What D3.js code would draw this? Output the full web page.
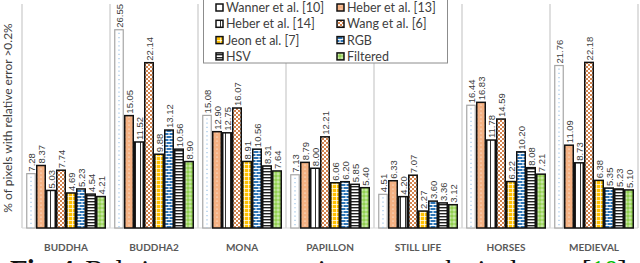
<!DOCTYPE html>
<html>
<head>
<meta charset="utf-8">
<script src="https://cdn.jsdelivr.net/npm/d3@7"></script>
<style>
  body { margin: 0; background: #fff; }
  svg { display: block; }
</style>
</head>
<body>
<div id="chart"></div>
<script>
// scenes along the x axis
const categories = ["BUDDHA", "BUDDHA2", "MONA", "PAPILLON", "STILL LIFE", "HORSES", "MEDIEVAL"];

// methods, in bar order
const seriesNames = ["Wanner et al. [10]", "Heber et al. [13]", "Heber et al. [14]", "Wang et al. [6]",
                     "Jeon et al. [7]", "RGB", "HSV", "Filtered"];

// values per method, one per scene
const wanner   = [7.28, 26.55, 15.08, 7.13, 4.51, 16.44, 21.76];
const heber13  = [8.37, 15.05, 12.90, 8.79, 6.33, 16.83, 11.09];
const heber14  = [5.03, 11.52, 12.75, 8.00, 4.20, 11.78, 8.73];
const wang     = [7.74, 22.14, 16.07, 12.21, 7.07, 14.59, 22.18];
const jeon     = [4.69, 9.88, 8.91, 6.06, 2.27, 6.22, 6.38];
const rgb      = [5.23, 13.12, 10.56, 6.20, 3.60, 10.20, 5.35];
const hsv      = [4.54, 10.56, 8.31, 5.85, 3.36, 8.08, 5.23];
const filtered = [4.21, 8.90, 7.64, 5.40, 3.12, 7.21, 5.10];

const seriesValues = [wanner, heber13, heber14, wang, jeon, rgb, hsv, filtered];
const yMax = 30;

const width = 640, height = 263;
const margin = { top: 4, right: 2, bottom: 35, left: 22 };

const svg = d3.select("#chart").append("svg")
    .attr("width", width)
    .attr("height", height);

// fill patterns, one per method
const defs = svg.append("defs");
const pat = (id, w, h) => defs.append("pattern")
    .attr("id", id).attr("patternUnits", "userSpaceOnUse")
    .attr("width", w).attr("height", h);

let p = pat("p-wanner", 4, 4);
p.append("rect").attr("width", 4).attr("height", 4).attr("fill", "#fff");

p = pat("p-heber13", 4, 4);
p.append("rect").attr("width", 4).attr("height", 4).attr("fill", "#f4b183");
p.append("circle").attr("cx", 1).attr("cy", 1).attr("r", 0.6).attr("fill", "#fff");

p = pat("p-heber14", 5, 4);
p.append("rect").attr("width", 5).attr("height", 4).attr("fill", "#fff");
p.append("rect").attr("x", 0).attr("width", 1).attr("height", 4).attr("fill", "#333");

p = pat("p-wang", 4, 4);
p.append("rect").attr("width", 4).attr("height", 4).attr("fill", "#fff");
p.append("circle").attr("cx", 1).attr("cy", 1).attr("r", 1).attr("fill", "#c55a11");
p.append("circle").attr("cx", 3).attr("cy", 3).attr("r", 1).attr("fill", "#c55a11");

p = pat("p-jeon", 4, 4);
p.append("rect").attr("width", 4).attr("height", 4).attr("fill", "#ffc000");
p.append("path").attr("d", "M0,0.4H4M0.4,0V4").attr("stroke", "#fff").attr("stroke-width", 0.8);

p = pat("p-rgb", 6, 6);
p.append("rect").attr("width", 6).attr("height", 6).attr("fill", "#2e75b6");
p.append("path").attr("d", "M0,0.5H6M0,3.5H6M1,0V3M4,3V6")
    .attr("stroke", "#fff").attr("stroke-width", 1);

p = pat("p-hsv", 4, 3);
p.append("rect").attr("width", 4).attr("height", 3).attr("fill", "#fff");
p.append("rect").attr("width", 4).attr("height", 1.4).attr("fill", "#222");

p = pat("p-filtered", 4, 4);
p.append("rect").attr("width", 4).attr("height", 4).attr("fill", "#92d050");
p.append("circle").attr("cx", 2).attr("cy", 2).attr("r", 1.1).attr("fill", "none")
    .attr("stroke", "#fff").attr("stroke-width", 0.6);

const patIds = ["p-wanner", "p-heber13", "p-heber14", "p-wang", "p-jeon", "p-rgb", "p-hsv", "p-filtered"];
const strokes = ["#a6a6a6", "#111", "#111", "#111", "#111", "#111", "#111", "#111"];

// scales
const x0 = d3.scaleBand()
    .domain(categories)
    .range([margin.left, width - margin.right]);

const x1 = d3.scaleBand()
    .domain(seriesNames)
    .range([0, x0.bandwidth()])
    .paddingOuter(0.4);

const y = d3.scaleLinear()
    .domain([0, yMax])
    .range([height - margin.bottom, margin.top]);

// group separators
const bounds = categories.map(c => x0(c)).concat([x0.range()[1]]);
svg.append("g").selectAll("line")
    .data(bounds)
    .join("line")
    .attr("x1", d => d).attr("x2", d => d)
    .attr("y1", y(yMax)).attr("y2", y(0))
    .attr("stroke", "#bfbfbf").attr("stroke-width", 1);

svg.append("line")
    .attr("x1", x0.range()[0]).attr("x2", x0.range()[1])
    .attr("y1", y(0)).attr("y2", y(0))
    .attr("stroke", "#d9d9d9");

// flatten data
const rows = [];
categories.forEach((c, ci) => {
    seriesNames.forEach((s, si) => rows.push({ cat: c, series: s, si, value: seriesValues[si][ci] }));
});

// bars
svg.append("g").selectAll("rect")
    .data(rows)
    .join("rect")
    .attr("x", d => x0(d.cat) + x1(d.series) + 0.75)
    .attr("y", d => y(d.value))
    .attr("width", x1.bandwidth() - 1.5)
    .attr("height", d => y(0) - y(d.value))
    .attr("fill", d => `url(#${patIds[d.si]})`)
    .attr("stroke", d => strokes[d.si])
    .attr("stroke-width", d => d.si === 0 ? 1.2 : 1.5);

// dotted line inside Wanner bars
svg.append("g").selectAll("line")
    .data(rows.filter(d => d.si === 0))
    .join("line")
    .attr("x1", d => x0(d.cat) + x1(d.series) + x1.bandwidth() / 2)
    .attr("x2", d => x0(d.cat) + x1(d.series) + x1.bandwidth() / 2)
    .attr("y1", d => y(d.value) + 3)
    .attr("y2", y(0))
    .attr("stroke", "#9dc3e6")
    .attr("stroke-width", 1.2)
    .attr("stroke-dasharray", "1.2,3");

// value labels
svg.append("g").selectAll("text")
    .data(rows)
    .join("text")
    .attr("transform", d => `translate(${x0(d.cat) + x1(d.series) + x1.bandwidth() / 2 + 3.5},${y(d.value) - 2}) rotate(-90)`)
    .attr("font-family", "Liberation Sans, Arial, sans-serif")
    .attr("font-size", "9.5px")
    .attr("fill", "#404040")
    .text(d => d.value.toFixed(2));

// category labels
svg.append("g").selectAll("text")
    .data(categories)
    .join("text")
    .attr("x", d => x0(d) + x0.bandwidth() / 2)
    .attr("y", 251)
    .attr("text-anchor", "middle")
    .attr("font-family", "Lato, sans-serif")
    .attr("font-weight", "bold")
    .attr("font-size", "10px")
    .attr("fill", "#595959")
    .text(d => d);

// y axis title
svg.append("text")
    .attr("transform", `translate(12,${(y(0) + y(yMax)) / 2 + 2}) rotate(-90)`)
    .attr("text-anchor", "middle")
    .attr("font-family", "Lato, sans-serif")
    .attr("font-size", "12px")
    .attr("fill", "#404040")
    .text("% of pixels with relative error >0.2%");

// legend
const legend = svg.append("g");
legend.append("rect")
    .attr("x", 203.5).attr("y", -1)
    .attr("width", 244).attr("height", 64)
    .attr("fill", "#fff").attr("stroke", "#8c8c8c");

seriesNames.forEach((s, i) => {
    const col = i % 2, row = Math.floor(i / 2);
    const lx = col === 0 ? 216 : 337;
    const ly = 8 + row * 16.3;
    legend.append("rect")
        .attr("x", lx).attr("y", ly - 4)
        .attr("width", 7).attr("height", 7)
        .attr("fill", `url(#${patIds[i]})`)
        .attr("stroke", "#111").attr("stroke-width", 1.5);
    legend.append("text")
        .attr("x", lx + 10).attr("y", ly + 4)
        .attr("font-family", "Lato, sans-serif")
        .attr("font-size", "12.5px")
        .attr("fill", "#404040")
        .text(s);
});

// figure caption, cut by the picture edge
const cap = svg.append("text")
    .attr("x", 10).attr("y", 280)
    .attr("textLength", 617)
    .attr("lengthAdjust", "spacing")
    .attr("font-family", "Liberation Serif, serif")
    .attr("font-size", "29px")
    .attr("fill", "#111");
cap.append("tspan").attr("font-weight", "bold").text("Fig. 4. ");
cap.append("tspan").text("Relative error comparison on synthetic dataset ");
cap.append("tspan").text("[");
cap.append("tspan").attr("fill", "#00c000").text("10");
cap.append("tspan").text("]");
</script>
</body>
</html>
